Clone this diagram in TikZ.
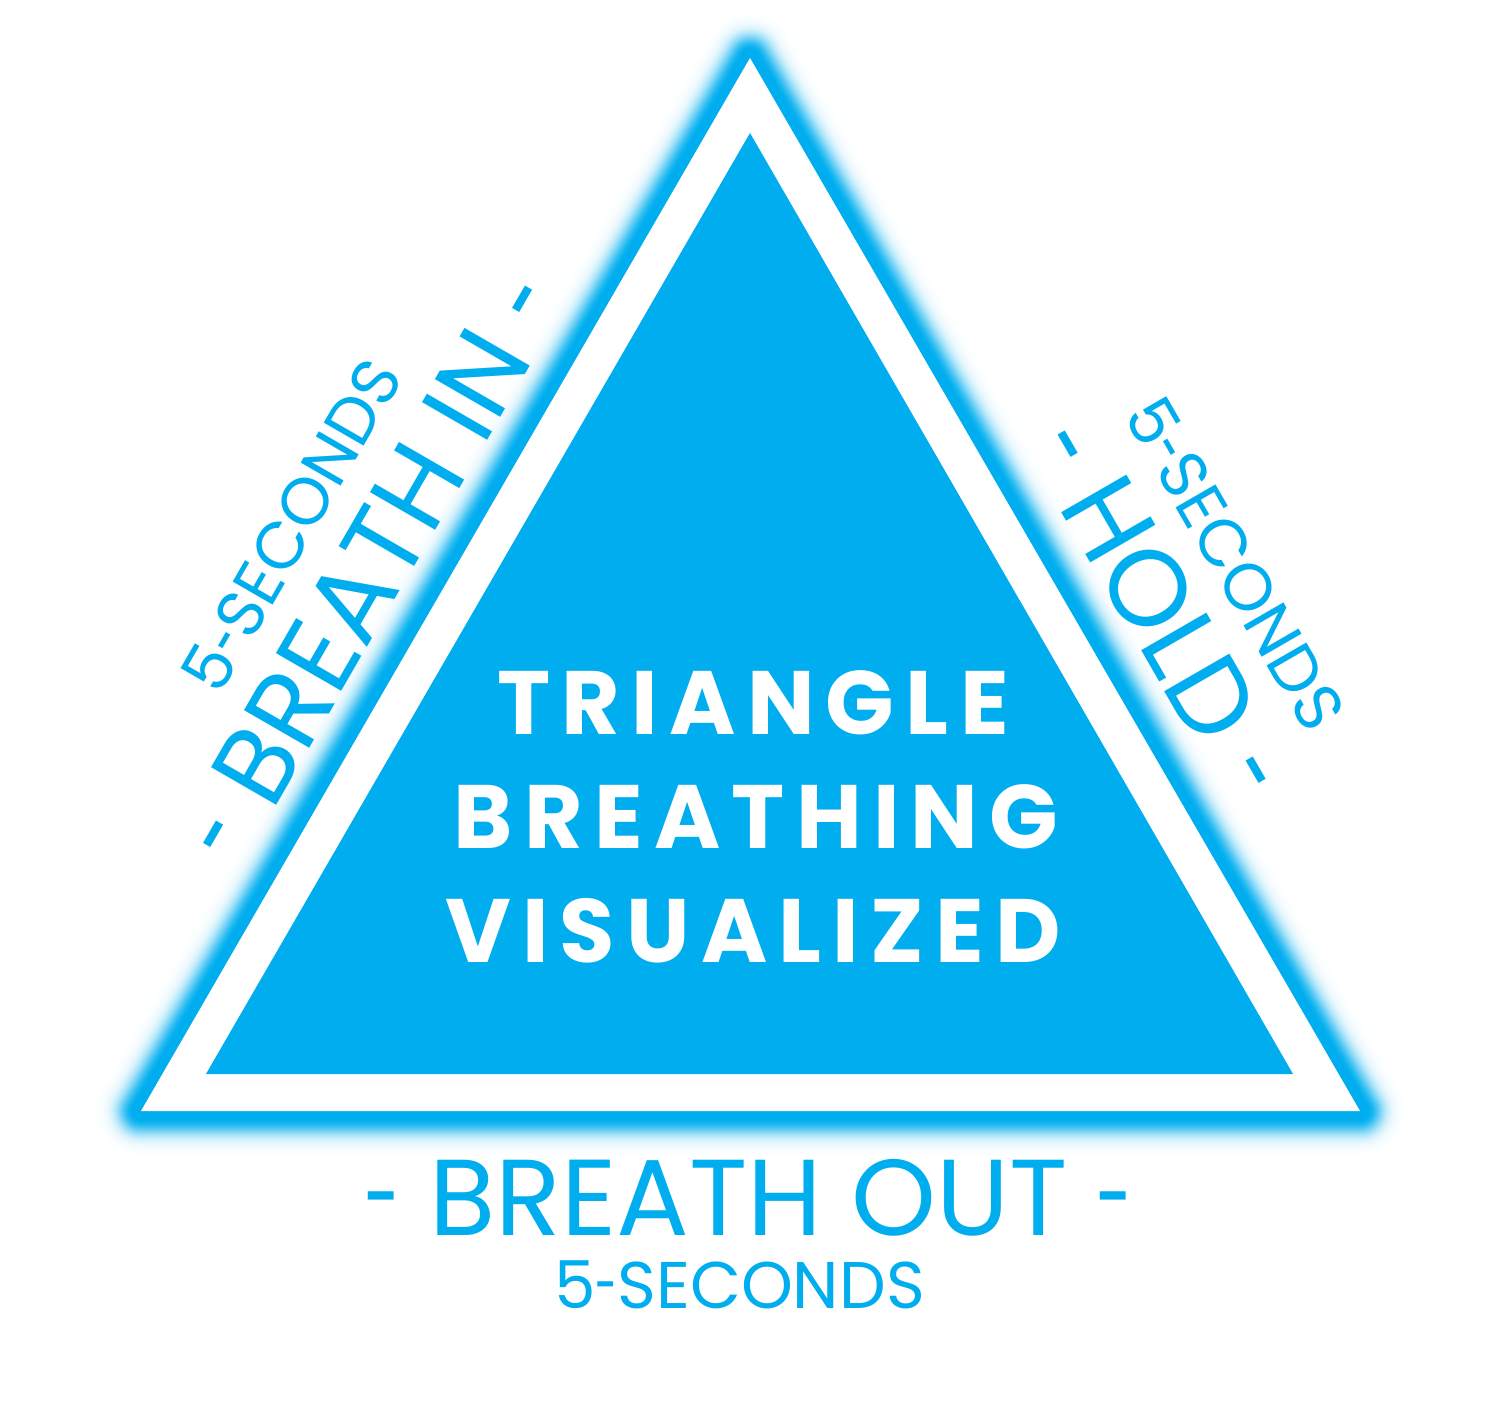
\documentclass[tikz,border=0pt]{standalone}
\usepackage{fontspec}
\setmainfont{Poppins}
\newfontfamily\titlefont[LetterSpace=12.5]{Poppins}
\definecolor{cy}{RGB}{0,174,239}
\newcommand\shorthy[1][0.6]{\scalebox{#1}[1]{-}}
\newcommand\sidedash{\raisebox{0pt}{\scalebox{0.6}[1]{-}}}
\begin{document}
\begin{tikzpicture}[x=1pt,y=-1pt,
  sidetext/.style={text=cy,inner sep=0pt,anchor=base,font=\fontsize{108}{108}\selectfont},
  secstext/.style={text=cy,inner sep=0pt,anchor=base,font=\fontsize{66}{66}\selectfont},
  titletext/.style={text=white,inner sep=0pt,anchor=base,font=\titlefont\bfseries\fontsize{90}{90}\selectfont}]
\useasboundingbox (0,0) rectangle (1500,1413);
\fill[white] (0,0) rectangle (1500,1413);
\coordinate (A) at (141,1111);
\coordinate (B) at (1360,1111);
\coordinate (C) at (750,58);
\coordinate (a) at (206,1074);
\coordinate (b) at (1293,1074);
\coordinate (c) at (750,133);
% glow
\foreach \d in {50,49,...,1}{
  \pgfmathsetmacro\f{100*exp(-(max(\d-8,0)/16)^2)}
  \draw[line width=2*\d, line join=round, draw=cy!\f!white] (A)--(B)--(C)--cycle;
}
\fill[white] (A)--(B)--(C)--cycle;
\fill[cy] (a)--(b)--(c)--cycle;
% title
\node[titletext] (t1) at (753,734) {TRIANGLE};
\node[titletext] (t2) at (756,848) {BREATHING};
\node[titletext] (t3) at (753,962) {VISUALIZED};
% left
\node[sidetext,rotate=60] (inL) at (403.2,585.7) {\sidedash\ BREATH IN \sidedash};
\node[secstext,rotate=60] (secL) at (312,537) {5\shorthy SECONDS};
% right
\node[sidetext,rotate=-60] (holdR) at (1128,628) {\sidedash\ HOLD \sidedash};
\node[secstext,rotate=-60] (secR) at (1215,575.5) {5\shorthy SECONDS};
% bottom
\node[sidetext] (out) at (748.5,1235) {\sidedash\ BREATH OUT \sidedash};
\node[secstext] (secB) at (739.5,1308) {5\shorthy SECONDS};
\end{tikzpicture}
\end{document}
